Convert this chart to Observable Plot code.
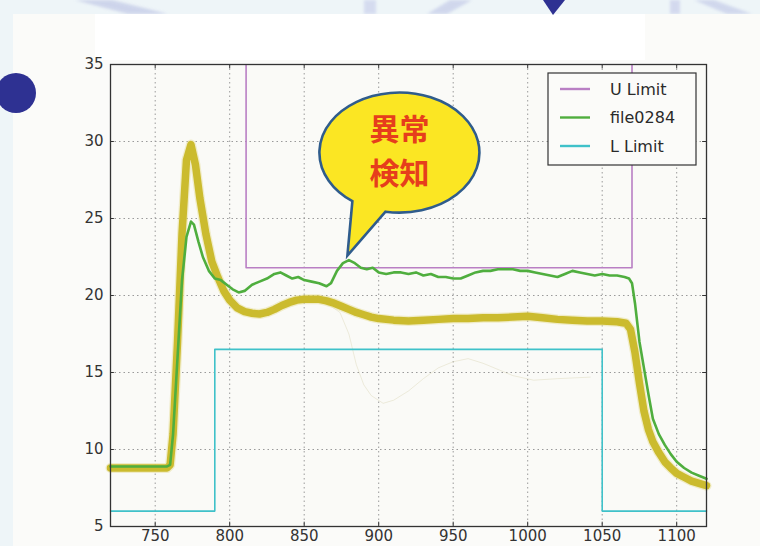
<!DOCTYPE html>
<html>
<head>
<meta charset="utf-8">
<script src="https://cdn.jsdelivr.net/npm/d3@7"></script>
<script src="https://cdn.jsdelivr.net/npm/@observablehq/plot@0.6"></script>
<style>
  html, body { margin: 0; padding: 0; background: #eef5f8; }
  #stage { position: relative; width: 760px; height: 546px; overflow: hidden; background: #eef5f8; }
  #deco { position: absolute; left: 0; top: 0; }
  #chart { position: absolute; left: 0; top: 0; }
  #chart svg { font-family: "DejaVu Sans", sans-serif; }
</style>
</head>
<body>
<div id="stage">
  <svg id="deco" width="760" height="546">
    <defs>
      <filter id="soft"><feGaussianBlur stdDeviation="1.5"/></filter>
    </defs>
    <rect x="0" y="0" width="760" height="546" fill="#eef5f8"/>
    <g filter="url(#soft)" opacity="0.8">
      <polygon points="75,0 112,0 168,14 128,14" fill="#c6cde8"/>
      <rect x="364" y="0" width="12" height="14" fill="#cfd5ee"/>
      <polygon points="427,14 447,14 472,0 450,0" fill="#c9d0ea"/>
      <rect x="670" y="0" width="10" height="14" fill="#cdd3ec"/>
      <polygon points="694,0 714,0 752,14 727,14" fill="#c9d0ea"/>
    </g>
    <rect x="13" y="14" width="747" height="532" fill="#fbfbf9"/>
    <rect x="95" y="14" width="550" height="46" fill="#ffffff"/>
    <polygon points="543,0 565,0 553,15" fill="#2e3192"/>
  </svg>
  <div id="chart"></div>
  <svg style="position:absolute;left:0;top:0" width="40" height="140">
    <circle cx="16" cy="93" r="20" fill="#2e3192"/>
  </svg>
</div>
<script>
// Axis ticks
const xTicks = [750, 800, 850, 900, 950, 1000, 1050, 1100];
const yTicks = [5, 10, 15, 20, 25, 30, 35];

// Upper limit (purple) — off the top of the chart outside its window
const uLimitX = [720, 811, 811, 1070, 1070, 1120];
const uLimitY = [40, 40, 21.8, 21.8, 40, 40];

// Lower limit (cyan)
const lLimitX = [720, 790, 790, 1050, 1050, 1120];
const lLimitY = [6, 6, 16.5, 16.5, 6, 6];

// Measured trace file0284 (green)
const fileX = [720, 740, 758, 760, 762, 765, 768, 771, 774, 776, 779, 782, 786, 790, 794, 798, 802, 806, 810, 815, 820, 825, 830, 834, 838, 842, 846, 850, 855, 860, 865, 868, 872, 876, 880, 884, 888, 892, 896, 900, 905, 910, 915, 920, 925, 930, 935, 940, 945, 950, 955, 960, 965, 970, 975, 980, 985, 990, 995, 1000, 1005, 1010, 1015, 1020, 1025, 1030, 1035, 1040, 1045, 1050, 1055, 1060, 1065, 1068, 1070, 1072, 1075, 1078, 1081, 1084, 1088, 1092, 1096, 1100, 1105, 1110, 1115, 1120];
const fileY = [8.9, 8.9, 8.9, 9.0, 11, 16, 21, 23.8, 24.8, 24.6, 23.5, 22.5, 21.6, 21.1, 21.0, 20.7, 20.4, 20.2, 20.3, 20.7, 20.9, 21.1, 21.4, 21.5, 21.3, 21.1, 21.2, 21.0, 20.9, 20.8, 20.6, 20.8, 21.6, 22.1, 22.3, 22.1, 21.8, 21.7, 21.8, 21.5, 21.4, 21.5, 21.5, 21.4, 21.5, 21.3, 21.4, 21.2, 21.2, 21.1, 21.1, 21.3, 21.5, 21.6, 21.6, 21.7, 21.7, 21.7, 21.6, 21.6, 21.5, 21.4, 21.3, 21.2, 21.4, 21.6, 21.5, 21.4, 21.3, 21.4, 21.3, 21.3, 21.2, 21.1, 20.8, 19.5, 17, 15.3, 13.6, 12.0, 11.0, 10.3, 9.7, 9.2, 8.8, 8.5, 8.3, 8.1];

// Reference traces (olive band)
const refX = [720, 758, 760, 762, 765, 768, 771, 774, 777, 780, 784, 788, 792, 796, 800, 805, 810, 815, 820, 825, 830, 835, 840, 845, 850, 855, 860, 865, 870, 875, 880, 885, 890, 895, 900, 910, 920, 930, 940, 950, 960, 970, 980, 990, 1000, 1010, 1020, 1030, 1040, 1050, 1060, 1066, 1069, 1072, 1075, 1078, 1081, 1084, 1088, 1092, 1096, 1100, 1105, 1110, 1115, 1120];
const refY = [8.8, 8.8, 9.0, 11, 17, 24, 28.8, 29.8, 28.5, 26.3, 24, 22.2, 21.2, 20.3, 19.7, 19.2, 18.95, 18.85, 18.8, 18.9, 19.1, 19.35, 19.55, 19.7, 19.75, 19.75, 19.75, 19.65, 19.5, 19.3, 19.1, 18.9, 18.75, 18.6, 18.5, 18.4, 18.35, 18.4, 18.45, 18.5, 18.5, 18.55, 18.55, 18.6, 18.65, 18.55, 18.45, 18.4, 18.35, 18.35, 18.3, 18.2, 17.8, 16.3, 14.3, 12.5, 11.3, 10.5, 9.8, 9.2, 8.8, 8.45, 8.2, 7.95, 7.8, 7.65];

// A faint stray reference trace
const faintX = [860, 868, 874, 880, 885, 890, 895, 903, 910, 920, 930, 940, 950, 960, 970, 980, 990, 1004, 1020, 1042];
const faintY = [19.6, 19.3, 18.9, 17.5, 15.5, 14.2, 13.5, 13.0, 13.2, 13.8, 14.6, 15.3, 15.7, 15.9, 15.6, 15.2, 14.8, 14.5, 14.6, 14.7];

// Callout target
const alertX = 880;
const alertY = 22.3;
const alertText = ["異常", "検知"];

const legendItems = [
  {label: "U Limit", color: "#b97fc4"},
  {label: "file0284", color: "#4fae3e"},
  {label: "L Limit", color: "#3fc1c9"}
];

const rows = (xs, ys) => xs.map((x, i) => ({x, y: ys[i]}));
const uLimit = rows(uLimitX, uLimitY);
const lLimit = rows(lLimitX, lLimitY);
const fileTrace = rows(fileX, fileY);
const refTrace = rows(refX, refY);
const faintTrace = rows(faintX, faintY);

const axisColor = "#333";

const chart = Plot.plot({
  width: 760,
  height: 546,
  marginLeft: 110,
  marginRight: 54,
  marginTop: 64,
  marginBottom: 20,
  style: {background: "transparent", fontFamily: "DejaVu Sans, sans-serif"},
  x: {domain: [720, 1120]},
  y: {domain: [5, 35]},
  marks: [
    Plot.frame({fill: "#fafaf7", stroke: null}),
    Plot.gridX(xTicks.filter(d => d > 720 && d < 1120), {stroke: "#9a9a9a", strokeOpacity: 1, strokeDasharray: "1.5,3", strokeWidth: 1}),
    Plot.gridY(yTicks.filter(d => d > 5 && d < 35), {stroke: "#9a9a9a", strokeOpacity: 1, strokeDasharray: "1.5,3", strokeWidth: 1}),
    Plot.line(faintTrace, {x: "x", y: "y", stroke: "#d8d3b0", strokeOpacity: 0.4, strokeWidth: 1}),
    Plot.line(refTrace, {x: "x", y: "y", stroke: "#e4dc8e", strokeWidth: 10, strokeOpacity: 0.45}),
    Plot.line(refTrace, {x: "x", y: "y", stroke: "#cbbb2e", strokeWidth: 7.5}),
    Plot.line(uLimit, {x: "x", y: "y", stroke: "#b97fc4", strokeWidth: 1.6, clip: true}),
    Plot.line(fileTrace, {x: "x", y: "y", stroke: "#4fae3e", strokeWidth: 2.6}),
    Plot.line(lLimit, {x: "x", y: "y", stroke: "#3fc1c9", strokeWidth: 1.6}),
    // inward ticks on all four sides
    Plot.ruleX(xTicks, {x: d => d, y1: 5, y2: 5.28, stroke: axisColor}),
    Plot.ruleX(xTicks, {x: d => d, y1: 34.72, y2: 35, stroke: axisColor}),
    Plot.ruleY(yTicks, {y: d => d, x1: 720, x2: 722.6, stroke: axisColor}),
    Plot.ruleY(yTicks, {y: d => d, x1: 1117.4, x2: 1120, stroke: axisColor}),
    Plot.frame({stroke: axisColor, strokeWidth: 1.3}),
    Plot.axisX(xTicks, {tickSize: 0, tickPadding: 4, fontSize: 15, fill: "#333", label: null, tickFormat: d => String(d)}),
    Plot.axisY(yTicks, {tickSize: 0, tickPadding: 7, fontSize: 15, fill: "#333", label: null, tickFormat: d => String(d)})
  ]
});

document.getElementById("chart").appendChild(chart);

const svg = d3.select(chart);
const sx = chart.scale("x");
const sy = chart.scale("y");

// Legend box, upper right inside the frame
const plotRight = 760 - 54;
const lg = svg.append("g").attr("transform", `translate(${plotRight - 158},${64 + 9})`)
  .attr("text-anchor", "start");
lg.append("rect").attr("width", 148).attr("height", 92)
  .attr("fill", "#fbfbf9").attr("stroke", axisColor).attr("stroke-width", 1.2);
legendItems.forEach((d, i) => {
  const yy = 16 + i * 28.5;
  lg.append("line").attr("x1", 12).attr("x2", 42).attr("y1", yy).attr("y2", yy)
    .attr("stroke", d.color).attr("stroke-width", 2.4);
  lg.append("text").attr("x", 62).attr("y", yy).attr("dy", "0.36em")
    .attr("text-anchor", "start")
    .attr("font-size", 16).attr("fill", "#2a2a2a").text(d.label);
});

// Speech-bubble callout pointing at the anomaly
const tip = [sx.apply(alertX) - 1, sy.apply(alertY) - 4];
const c = [tip[0] + 52, tip[1] - 103];
const rx = 80, ry = 60;
const pt = a => [c[0] + rx * Math.cos(a * Math.PI / 180), c[1] + ry * Math.sin(a * Math.PI / 180)];
const b1 = pt(126), b2 = pt(100);
const bubble = svg.append("g");
bubble.append("path")
  .attr("d", `M${b2[0]},${b2[1]} A${rx},${ry} 0 1 0 ${b1[0]},${b1[1]} L${tip[0]},${tip[1]} Z`)
  .attr("fill", "#fbe623").attr("stroke", "#2f5c8c").attr("stroke-width", 2.6)
  .attr("stroke-linejoin", "miter");
// two-line label
alertText.forEach((t, i) => {
  bubble.append("text")
    .attr("x", c[0]).attr("y", c[1] + (i === 0 ? -23 : 21))
    .attr("dy", "0.36em")
    .attr("text-anchor", "middle")
    .attr("font-family", "'Noto Sans CJK JP', sans-serif").attr("font-weight", 700)
    .attr("font-size", 30).attr("fill", "#e63e1c").text(t);
});
</script>
</body>
</html>
